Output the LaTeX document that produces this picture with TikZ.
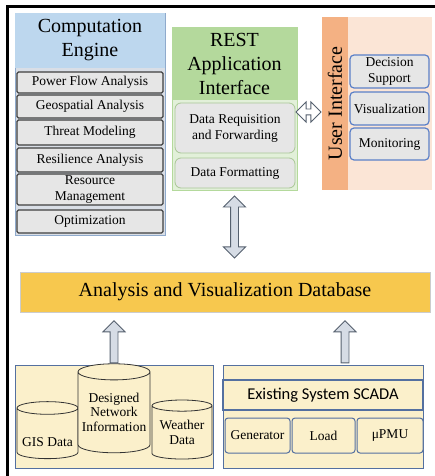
\documentclass[tikz,border=0pt]{standalone}
\usepackage{fontspec}
\setmainfont{Liberation Serif}
\newfontfamily\scadafont{Carlito}
\usetikzlibrary{shapes.geometric, shapes.arrows}

\definecolor{ceblue}{HTML}{BDD7EE}
\definecolor{celow}{HTML}{D9DEE6}
\definecolor{ceedge}{HTML}{8FAACC}
\definecolor{taskgray}{HTML}{E6E6E6}
\definecolor{restgreen}{HTML}{B4D99C}
\definecolor{restlight}{HTML}{E2F0D9}
\definecolor{uistrip}{HTML}{F4B183}
\definecolor{uilight}{HTML}{FBE5D6}
\definecolor{uiedge}{HTML}{5B80C8}
\definecolor{dbgold}{HTML}{F7C84E}
\definecolor{srcfill}{HTML}{FBF0CB}
\definecolor{srcedge}{HTML}{5470A0}
\definecolor{arrowfill}{HTML}{D6DCE5}
\definecolor{arrowedge}{HTML}{55606E}

\begin{document}
\begin{tikzpicture}[x=1pt, y=-1pt,
  box/.style={draw, inner sep=0pt, outer sep=0pt, align=center},
  titlefont/.style={font=\fontsize{20}{24}\selectfont},
  smallfont/.style={font=\fontsize{13.5}{16}\selectfont},
  cetask/.style={box, smallfont, draw=black!75, line width=1.1pt, fill=taskgray,
    rounded corners=1.5pt, minimum width=146},
  resttask/.style={box, smallfont, draw=restgreen!80!gray, line width=0.8pt,
    fill=taskgray, rounded corners=6pt, minimum width=120},
  uitask/.style={box, smallfont, draw=uiedge, line width=1.2pt, fill=taskgray,
    rounded corners=4pt, minimum width=79},
  srcdb/.style={cylinder, shape border rotate=90, aspect=0.25, draw=black!80,
    line width=0.8pt, fill=srcfill, inner sep=0pt, outer sep=0pt, align=center,
    font=\fontsize{13.5}{14.5}\selectfont},
  devbox/.style={box, smallfont, draw=srcedge, line width=1pt, fill=srcfill,
    rounded corners=3pt, minimum height=35},
  fatarrow/.style={single arrow, draw=arrowedge, fill=arrowfill, line width=0.9pt,
    inner xsep=0pt, inner ysep=3.5pt, outer sep=0pt, minimum width=21},
  fatdouble/.style={double arrow, draw=arrowedge, fill=arrowfill, line width=0.9pt,
    inner xsep=0pt, inner ysep=3.5pt, outer sep=0pt, minimum width=20}]
  \useasboundingbox (0,0) rectangle (435,476);
  % frame
  \draw[line width=3pt] (7,476) -- (7,7) -- (435,7);

  % computation engine
  \node[box, draw=ceedge, fill=celow, minimum width=150, minimum height=222] (ce) at (90,124) {};
  \node[box, draw=none, fill=ceblue, minimum width=150, minimum height=55, titlefont] (cetitle) at (90,40.5) {Computation\\Engine};
  \node[cetask, minimum height=21] (pfa) at (90,82.5) {Power Flow Analysis};
  \node[cetask, minimum height=23] (geo) at (90,106.5) {Geospatial Analysis};
  \node[cetask, minimum height=25] (threat) at (90,132.5) {Threat Modeling};
  \node[cetask, minimum height=24] (resil) at (90,160) {Resilience Analysis};
  \node[cetask, minimum height=31] (resmgmt) at (90,189.5) {Resource\\Management};
  \node[cetask, minimum height=23] (optim) at (90,221.5) {Optimization};

  % REST interface
  \node[box, draw=restgreen, fill=restlight, minimum width=125, minimum height=163] (rest) at (234.5,108.5) {};
  \node[box, draw=none, fill=restgreen, minimum width=124, minimum height=73, titlefont] (resttitle) at (234.5,63.5) {REST\\Application\\Interface};
  \node[resttask, minimum height=50] (req) at (235,128) {Data Requisition\\and Forwarding};
  \node[resttask, minimum height=30] (fmt) at (235,173) {Data Formatting};

  % user interface
  \node[box, draw=none, fill=uilight, minimum width=110, minimum height=173] (ui) at (377,103.5) {};
  \node[box, draw=none, fill=uistrip, rotate=90, minimum width=173, minimum height=26, titlefont] (uititle) at (335,103.5) {User Interface};
  \node[uitask, minimum height=33] (decision) at (389.5,71.5) {Decision\\Support};
  \node[uitask, minimum height=33] (visual) at (389.5,108.5) {Visualization};
  \node[uitask, minimum height=32] (monitor) at (389.5,144) {Monitoring};

  % database
  \node[box, draw=black!20, fill=dbgold, minimum width=410, minimum height=40, titlefont] (db) at (225,292) {Analysis and Visualization Database};

  % data sources
  \node[box, draw=srcedge, line width=1pt, fill=srcfill, minimum width=198, minimum height=103] (ds) at (114,416.5) {};
  \node[srcdb, minimum width=61, minimum height=57, text height=25pt, text depth=0pt] (gis) at (47.5,433.5) {GIS Data};
  \node[srcdb, minimum width=72, minimum height=89] (dni) at (114,412.5) {\\[-6pt]Designed\\Network\\Information};
  \node[srcdb, minimum width=60, minimum height=59] (weather) at (182,432.5) {Weather\\Data};

  \node[box, draw=srcedge, line width=1pt, fill=srcfill, minimum width=200, minimum height=103] (sys) at (323,416.5) {};
  \node[box, draw=srcedge, line width=1.2pt, fill=srcfill, minimum width=200, minimum height=30,
    font=\scadafont\fontsize{16.5}{18}\selectfont] (scada) at (323,395) {Existing System SCADA};
  \node[devbox, minimum width=65] (gen) at (257.5,435.5) {Generator};
  \node[devbox, minimum width=63] (load) at (323.5,435.5) {Load};
  \node[devbox, minimum width=66] (pmu) at (390,435.5) {μPMU};

  % arrows
  \path (req.east) -- (req.east -| ui.west)
    node[fatdouble, fill=white, inner ysep=2.5pt, minimum width=12, minimum height=25, pos=0.5, yshift=16pt] (uiarrow) {};
  \path (rest.south) -- (rest.south |- db.north)
    node[fatdouble, rotate=90, minimum height=62, pos=0.45] (dbarrow) {};
  \path (ds.north) -- (ds.north |- db.south)
    node[fatarrow, rotate=90, minimum height=42, pos=0.4] (dsarrow) {};
  \path ([xshift=22]sys.north) -- ([xshift=22]sys.north |- db.south)
    node[fatarrow, rotate=90, minimum height=42, pos=0.4] (sysarrow) {};
\end{tikzpicture}
\end{document}
